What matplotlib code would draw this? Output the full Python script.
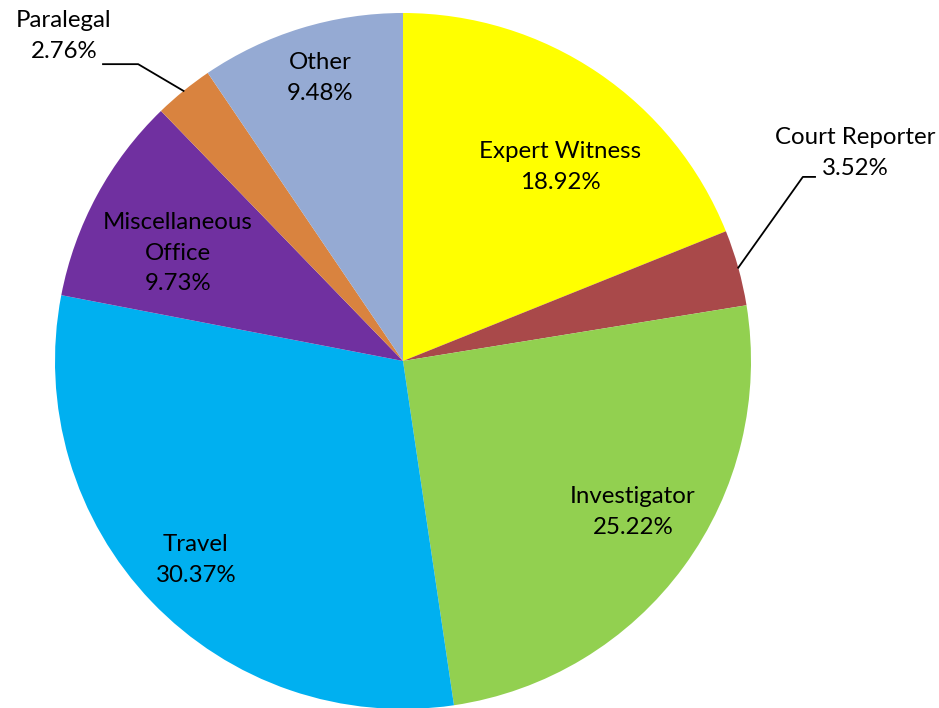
import matplotlib
matplotlib.use("Agg")
import matplotlib.pyplot as plt
import numpy as np

categories = ["Expert Witness", "Court Reporter", "Investigator", "Travel",
              "Miscellaneous\nOffice", "Paralegal", "Other"]
values = [18.92, 3.52, 25.22, 30.37, 9.73, 2.76, 9.48]
colors = ["#FFFF00", "#A9494A", "#92D050", "#00B0F0", "#7030A0", "#D9833F", "#95AAD3"]

# label positions (data coords, pie radius = 1)
label_pos = {
    "Expert Witness": (0.451, 0.557),
    "Court Reporter": (1.299, 0.598),
    "Investigator": (0.661, -0.434),
    "Travel": (-0.595, -0.572),
    "Miscellaneous\nOffice": (-0.647, 0.310),
    "Paralegal": (-0.974, 0.934),
    "Other": (-0.239, 0.813),
}
leader = {
    "Court Reporter": [(1.149, 0.529), (1.184, 0.529)],
    "Paralegal": [(-0.761, 0.853), (-0.862, 0.853)],
}

plt.rcParams['font.family'] = ['Lato', 'DejaVu Sans']

fig = plt.figure(figsize=(9.39, 7.08), dpi=100)
ax = fig.add_axes([(403 - 348) / 939, (708 - 361 - 348) / 708, 696 / 939, 696 / 708])
wedges, _ = ax.pie(values, colors=colors, startangle=90, counterclock=False,
                   radius=1.0, wedgeprops=dict(linewidth=0))
ax.set_xlim(-1, 1)
ax.set_ylim(-1, 1)
ax.set_aspect('equal')
ax.axis('off')

for w, cat, v in zip(wedges, categories, values):
    x, y = label_pos[cat]
    ax.text(x, y, f"{cat}\n{v:.2f}%", ha='center', va='center', fontsize=17.3,
            linespacing=1.55, color='black', clip_on=False)
    if cat in leader:
        mid = np.deg2rad((w.theta1 + w.theta2) / 2)
        pts = [(np.cos(mid), np.sin(mid))] + leader[cat]
        xs, ys = zip(*pts)
        ax.plot(xs, ys, color='black', lw=1.3, clip_on=False)

fig.savefig("out.png", dpi=100)
